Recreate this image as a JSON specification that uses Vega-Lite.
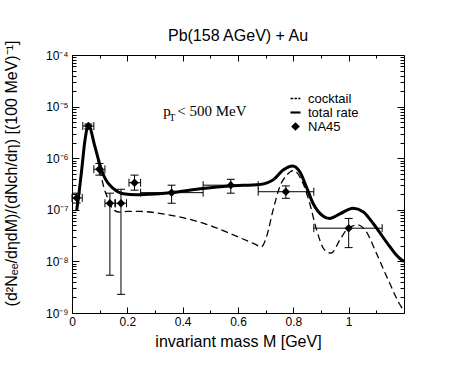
{
  "$schema": "https://vega.github.io/schema/vega-lite/v6.json",
  "width": 332,
  "height": 258,
  "autosize": {"type": "none"},
  "padding": {"left": 72, "top": 55, "right": 72, "bottom": 55},
  "background": "white",
  "title": {"text": "Pb(158 AGeV) + Au", "font": "Liberation Sans", "fontSize": 16, "fontWeight": "normal", "color": "black", "offset": -4, "anchor": "middle", "frame": "group"},
  "config": {
    "view": {"stroke": "black", "strokeWidth": 1},
    "axis": {"grid": false, "domain": false, "labelFont": "Liberation Sans", "titleFont": "Liberation Sans", "labelColor": "black", "titleColor": "black", "tickColor": "black", "tickWidth": 1, "titleFontWeight": "normal", "labelFontSize": 12, "titleFontSize": 16}
  },
  "datasets": {
    "cocktail": [
      {"m": 0.017, "v": 9.9e-8}, {"m": 0.023, "v": 1.67e-7}, {"m": 0.035, "v": 5.9e-7}, {"m": 0.047, "v": 2.25e-6},
      {"m": 0.059, "v": 4.4e-6}, {"m": 0.083, "v": 1.62e-6}, {"m": 0.1, "v": 6.3e-7}, {"m": 0.113, "v": 3.0e-7},
      {"m": 0.131, "v": 1.6e-7}, {"m": 0.15, "v": 1.0e-7}, {"m": 0.173, "v": 9.0e-8}, {"m": 0.2, "v": 9.3e-8},
      {"m": 0.245, "v": 9.3e-8}, {"m": 0.3, "v": 8.8e-8}, {"m": 0.354, "v": 7.9e-8}, {"m": 0.474, "v": 5.5e-8},
      {"m": 0.57, "v": 3.5e-8}, {"m": 0.655, "v": 2.24e-8}, {"m": 0.685, "v": 1.93e-8}, {"m": 0.703, "v": 3.0e-8},
      {"m": 0.727, "v": 1.0e-7}, {"m": 0.751, "v": 2.8e-7}, {"m": 0.776, "v": 4.7e-7}, {"m": 0.8, "v": 5.75e-7},
      {"m": 0.835, "v": 3.26e-7}, {"m": 0.859, "v": 1.34e-7}, {"m": 0.884, "v": 4.1e-8}, {"m": 0.913, "v": 1.66e-8},
      {"m": 0.937, "v": 1.45e-8}, {"m": 0.968, "v": 2.6e-8}, {"m": 0.998, "v": 4.4e-8}, {"m": 1.033, "v": 5.1e-8},
      {"m": 1.063, "v": 3.8e-8}, {"m": 1.1, "v": 1.45e-8}, {"m": 1.148, "v": 3.8e-9}, {"m": 1.19, "v": 1.32e-9},
      {"m": 1.2, "v": 1.12e-9}
    ],
    "total": [
      {"m": 0.017, "v": 9.9e-8}, {"m": 0.023, "v": 1.67e-7}, {"m": 0.035, "v": 5.9e-7}, {"m": 0.047, "v": 2.25e-6},
      {"m": 0.059, "v": 4.4e-6}, {"m": 0.083, "v": 1.67e-6}, {"m": 0.101, "v": 7.4e-7}, {"m": 0.119, "v": 4.1e-7},
      {"m": 0.149, "v": 2.6e-7}, {"m": 0.185, "v": 2.05e-7}, {"m": 0.233, "v": 1.95e-7}, {"m": 0.282, "v": 2.0e-7},
      {"m": 0.354, "v": 2.15e-7}, {"m": 0.474, "v": 2.6e-7}, {"m": 0.57, "v": 2.9e-7}, {"m": 0.679, "v": 3.1e-7},
      {"m": 0.727, "v": 3.8e-7}, {"m": 0.763, "v": 5.9e-7}, {"m": 0.797, "v": 7.1e-7}, {"m": 0.823, "v": 5.5e-7},
      {"m": 0.847, "v": 2.8e-7}, {"m": 0.871, "v": 1.34e-7}, {"m": 0.907, "v": 7.6e-8}, {"m": 0.931, "v": 6.8e-8},
      {"m": 0.968, "v": 8.3e-8}, {"m": 1.016, "v": 1.07e-7}, {"m": 1.052, "v": 9.2e-8}, {"m": 1.088, "v": 5.5e-8},
      {"m": 1.136, "v": 2.4e-8}, {"m": 1.184, "v": 1.15e-8}, {"m": 1.2, "v": 1.0e-8}
    ],
    "na45": [
      {"m": 0.017, "v": 1.7e-7, "xlo": 0.0, "xhi": 0.037, "ylo": 1.35e-7, "yhi": 2.1e-7},
      {"m": 0.059, "v": 4.2e-6, "xlo": 0.039, "xhi": 0.079, "ylo": 3.7e-6, "yhi": 4.6e-6},
      {"m": 0.099, "v": 6.1e-7, "xlo": 0.079, "xhi": 0.119, "ylo": 4.7e-7, "yhi": 7.9e-7},
      {"m": 0.137, "v": 1.34e-7, "xlo": 0.119, "xhi": 0.155, "ylo": 5.4e-9, "yhi": 2.1e-7},
      {"m": 0.177, "v": 1.34e-7, "xlo": 0.157, "xhi": 0.197, "ylo": 2.3e-9, "yhi": 2.5e-7},
      {"m": 0.226, "v": 3.35e-7, "xlo": 0.206, "xhi": 0.248, "ylo": 2.4e-7, "yhi": 4.7e-7},
      {"m": 0.36, "v": 2.15e-7, "xlo": 0.248, "xhi": 0.474, "ylo": 1.34e-7, "yhi": 3.0e-7},
      {"m": 0.574, "v": 3.0e-7, "xlo": 0.474, "xhi": 0.673, "ylo": 2.1e-7, "yhi": 3.9e-7},
      {"m": 0.773, "v": 2.24e-7, "xlo": 0.673, "xhi": 0.874, "ylo": 1.67e-7, "yhi": 2.9e-7},
      {"m": 1.0, "v": 4.4e-8, "xlo": 0.874, "xhi": 1.121, "ylo": 1.85e-8, "yhi": 6.8e-8}
    ],
    "legend": [{"series": "cocktail"}, {"series": "total rate"}, {"series": "NA45"}],
    "note": [{"p": "p", "t": "T", "rest": "< 500 MeV", "m": 0.33, "v": 6.6e-6}]
  },
  "layer": [
    {
      "data": {"name": "cocktail"},
      "mark": {"type": "line", "color": "black", "strokeWidth": 1.3, "strokeDash": [7, 4], "interpolate": "monotone", "clip": true},
      "encoding": {
        "x": {"field": "m", "type": "quantitative", "scale": {"domain": [0, 1.2], "nice": false, "zero": false},
              "axis": {"orient": "bottom", "values": [0, 0.2, 0.4, 0.6, 0.8, 1.0], "format": "~g", "ticks": false, "labelPadding": 3, "labelFlush": false, "title": "invariant mass M [GeV]", "titlePadding": 6}},
        "y": {"field": "v", "type": "quantitative", "scale": {"type": "log", "domain": [1e-9, 1e-4], "nice": false},
              "axis": {"orient": "left", "values": [1e-9, 1e-8, 1e-7, 1e-6, 1e-5, 1e-4], "ticks": false, "labelPadding": 4,
                       "labelExpr": "'10' + ['⁻⁹','⁻⁸','⁻⁷','⁻⁶','⁻⁵','⁻⁴'][round(log(datum.value)/LN10)+9]",
                       "title": "(d²Nₑₑ/dηdM)/(dNch/dη) [(100 MeV)⁻¹]", "titlePadding": 26, "titleY": 118}}
      }
    },
    {
      "data": {"name": "total"},
      "mark": {"type": "line", "color": "black", "strokeWidth": 3, "interpolate": "monotone", "clip": true},
      "encoding": {
        "x": {"field": "m", "type": "quantitative", "scale": {"domain": [0, 1.2], "nice": false, "zero": false},
              "axis": {"orient": "bottom", "values": [0, 0.2, 0.4, 0.6, 0.8, 1.0], "labels": false, "tickSize": -6, "title": null}},
        "y": {"field": "v", "type": "quantitative", "scale": {"type": "log", "domain": [1e-9, 1e-4], "nice": false},
              "axis": {"orient": "left", "values": [1e-9, 1e-8, 1e-7, 1e-6, 1e-5, 1e-4], "labels": false, "tickSize": -7, "title": null}}
      }
    },
    {
      "data": {"name": "na45"},
      "mark": {"type": "rule", "color": "black", "strokeWidth": 1},
      "encoding": {
        "x": {"field": "xlo", "type": "quantitative", "scale": {"domain": [0, 1.2], "nice": false, "zero": false},
              "axis": {"orient": "bottom", "values": [0.1, 0.3, 0.5, 0.7, 0.9, 1.1], "labels": false, "tickSize": -3, "title": null}},
        "x2": {"field": "xhi"},
        "y": {"field": "v", "type": "quantitative", "scale": {"type": "log", "domain": [1e-9, 1e-4], "nice": false},
              "axis": {"orient": "left", "labels": false, "tickSize": -4, "title": null,
                       "values": [2e-9,3e-9,4e-9,5e-9,6e-9,7e-9,8e-9,9e-9,2e-8,3e-8,4e-8,5e-8,6e-8,7e-8,8e-8,9e-8,2e-7,3e-7,4e-7,5e-7,6e-7,7e-7,8e-7,9e-7,2e-6,3e-6,4e-6,5e-6,6e-6,7e-6,8e-6,9e-6,2e-5,3e-5,4e-5,5e-5,6e-5,7e-5,8e-5,9e-5]}}
      }
    },
    {
      "data": {"name": "na45"},
      "mark": {"type": "rule", "color": "black", "strokeWidth": 1},
      "encoding": {
        "x": {"field": "m", "type": "quantitative", "scale": {"domain": [0, 1.2], "nice": false, "zero": false},
              "axis": {"orient": "top", "values": [0, 0.2, 0.4, 0.6, 0.8, 1.0], "labels": false, "tickSize": -6, "title": null}},
        "y": {"field": "ylo", "type": "quantitative", "scale": {"type": "log", "domain": [1e-9, 1e-4], "nice": false},
              "axis": {"orient": "right", "values": [1e-9, 1e-8, 1e-7, 1e-6, 1e-5, 1e-4], "labels": false, "tickSize": -7, "title": null}},
        "y2": {"field": "yhi"}
      }
    },
    {
      "data": {"name": "na45"},
      "transform": [{"fold": ["xlo", "xhi"], "as": ["k", "xv"]}],
      "mark": {"type": "point", "shape": "M0,-1V1", "size": 64, "color": "black", "filled": false, "strokeWidth": 1, "opacity": 1},
      "encoding": {
        "x": {"field": "xv", "type": "quantitative", "scale": {"domain": [0, 1.2], "nice": false, "zero": false},
              "axis": {"orient": "top", "values": [0.1, 0.3, 0.5, 0.7, 0.9, 1.1], "labels": false, "tickSize": -3, "title": null}},
        "y": {"field": "v", "type": "quantitative", "scale": {"type": "log", "domain": [1e-9, 1e-4], "nice": false},
              "axis": {"orient": "right", "labels": false, "tickSize": -4, "title": null,
                       "values": [2e-9,3e-9,4e-9,5e-9,6e-9,7e-9,8e-9,9e-9,2e-8,3e-8,4e-8,5e-8,6e-8,7e-8,8e-8,9e-8,2e-7,3e-7,4e-7,5e-7,6e-7,7e-7,8e-7,9e-7,2e-6,3e-6,4e-6,5e-6,6e-6,7e-6,8e-6,9e-6,2e-5,3e-5,4e-5,5e-5,6e-5,7e-5,8e-5,9e-5]}}
      }
    },
    {
      "data": {"name": "na45"},
      "transform": [{"fold": ["ylo", "yhi"], "as": ["k", "yv"]}],
      "mark": {"type": "point", "shape": "M-1,0H1", "size": 64, "color": "black", "filled": false, "strokeWidth": 1, "opacity": 1},
      "encoding": {
        "x": {"field": "m", "type": "quantitative", "axis": null},
        "y": {"field": "yv", "type": "quantitative", "axis": null}
      }
    },
    {
      "data": {"name": "na45"},
      "mark": {"type": "point", "shape": "diamond", "size": 70, "color": "black", "filled": true, "opacity": 1},
      "encoding": {
        "x": {"field": "m", "type": "quantitative", "axis": null},
        "y": {"field": "v", "type": "quantitative", "axis": null}
      }
    },
    {
      "data": {"name": "legend"},
      "mark": {"type": "point", "filled": true, "size": 324, "opacity": 0},
      "encoding": {
        "shape": {"field": "series", "type": "nominal",
                  "scale": {"domain": ["cocktail", "total rate", "NA45"], "range": ["M-1,0H-0.45M-0.2,0H0.3M0.55,0H1", "M-1,0H1", "M0,-0.45L0.45,0L0,0.45L-0.45,0Z"]},
                  "legend": {"title": null, "orient": "none", "legendX": 217, "legendY": 37, "padding": 0, "labelFont": "Liberation Sans", "labelFontSize": 13, "labelColor": "black", "labelOffset": 6, "rowPadding": -5, "symbolOpacity": 1}},
        "fill": {"field": "series", "type": "nominal", "scale": {"domain": ["cocktail", "total rate", "NA45"], "range": ["black", "black", "black"]}},
        "stroke": {"field": "series", "type": "nominal", "scale": {"domain": ["cocktail", "total rate", "NA45"], "range": ["black", "black", "black"]}},
        "strokeWidth": {"field": "series", "type": "nominal", "scale": {"domain": ["cocktail", "total rate", "NA45"], "range": [1.3, 3, 1]}}
      }
    },
    {
      "data": {"name": "note"},
      "mark": {"type": "text", "font": "Liberation Serif", "fontSize": 15, "align": "left", "baseline": "alphabetic", "color": "black"},
      "encoding": {
        "text": {"field": "p"},
        "x": {"field": "m", "type": "quantitative", "axis": null},
        "y": {"field": "v", "type": "quantitative", "axis": null}
      }
    },
    {
      "data": {"name": "note"},
      "mark": {"type": "text", "font": "Liberation Serif", "fontSize": 10, "align": "left", "baseline": "alphabetic", "color": "black", "dx": 6, "dy": 5},
      "encoding": {
        "text": {"field": "t"},
        "x": {"field": "m", "type": "quantitative", "axis": null},
        "y": {"field": "v", "type": "quantitative", "axis": null}
      }
    },
    {
      "data": {"name": "note"},
      "mark": {"type": "text", "font": "Liberation Serif", "fontSize": 15, "align": "left", "baseline": "alphabetic", "color": "black", "dx": 14},
      "encoding": {
        "text": {"field": "rest"},
        "x": {"field": "m", "type": "quantitative", "axis": null},
        "y": {"field": "v", "type": "quantitative", "axis": null}
      }
    }
  ],
  "resolve": {"axis": {"x": "independent", "y": "independent"}}
}
